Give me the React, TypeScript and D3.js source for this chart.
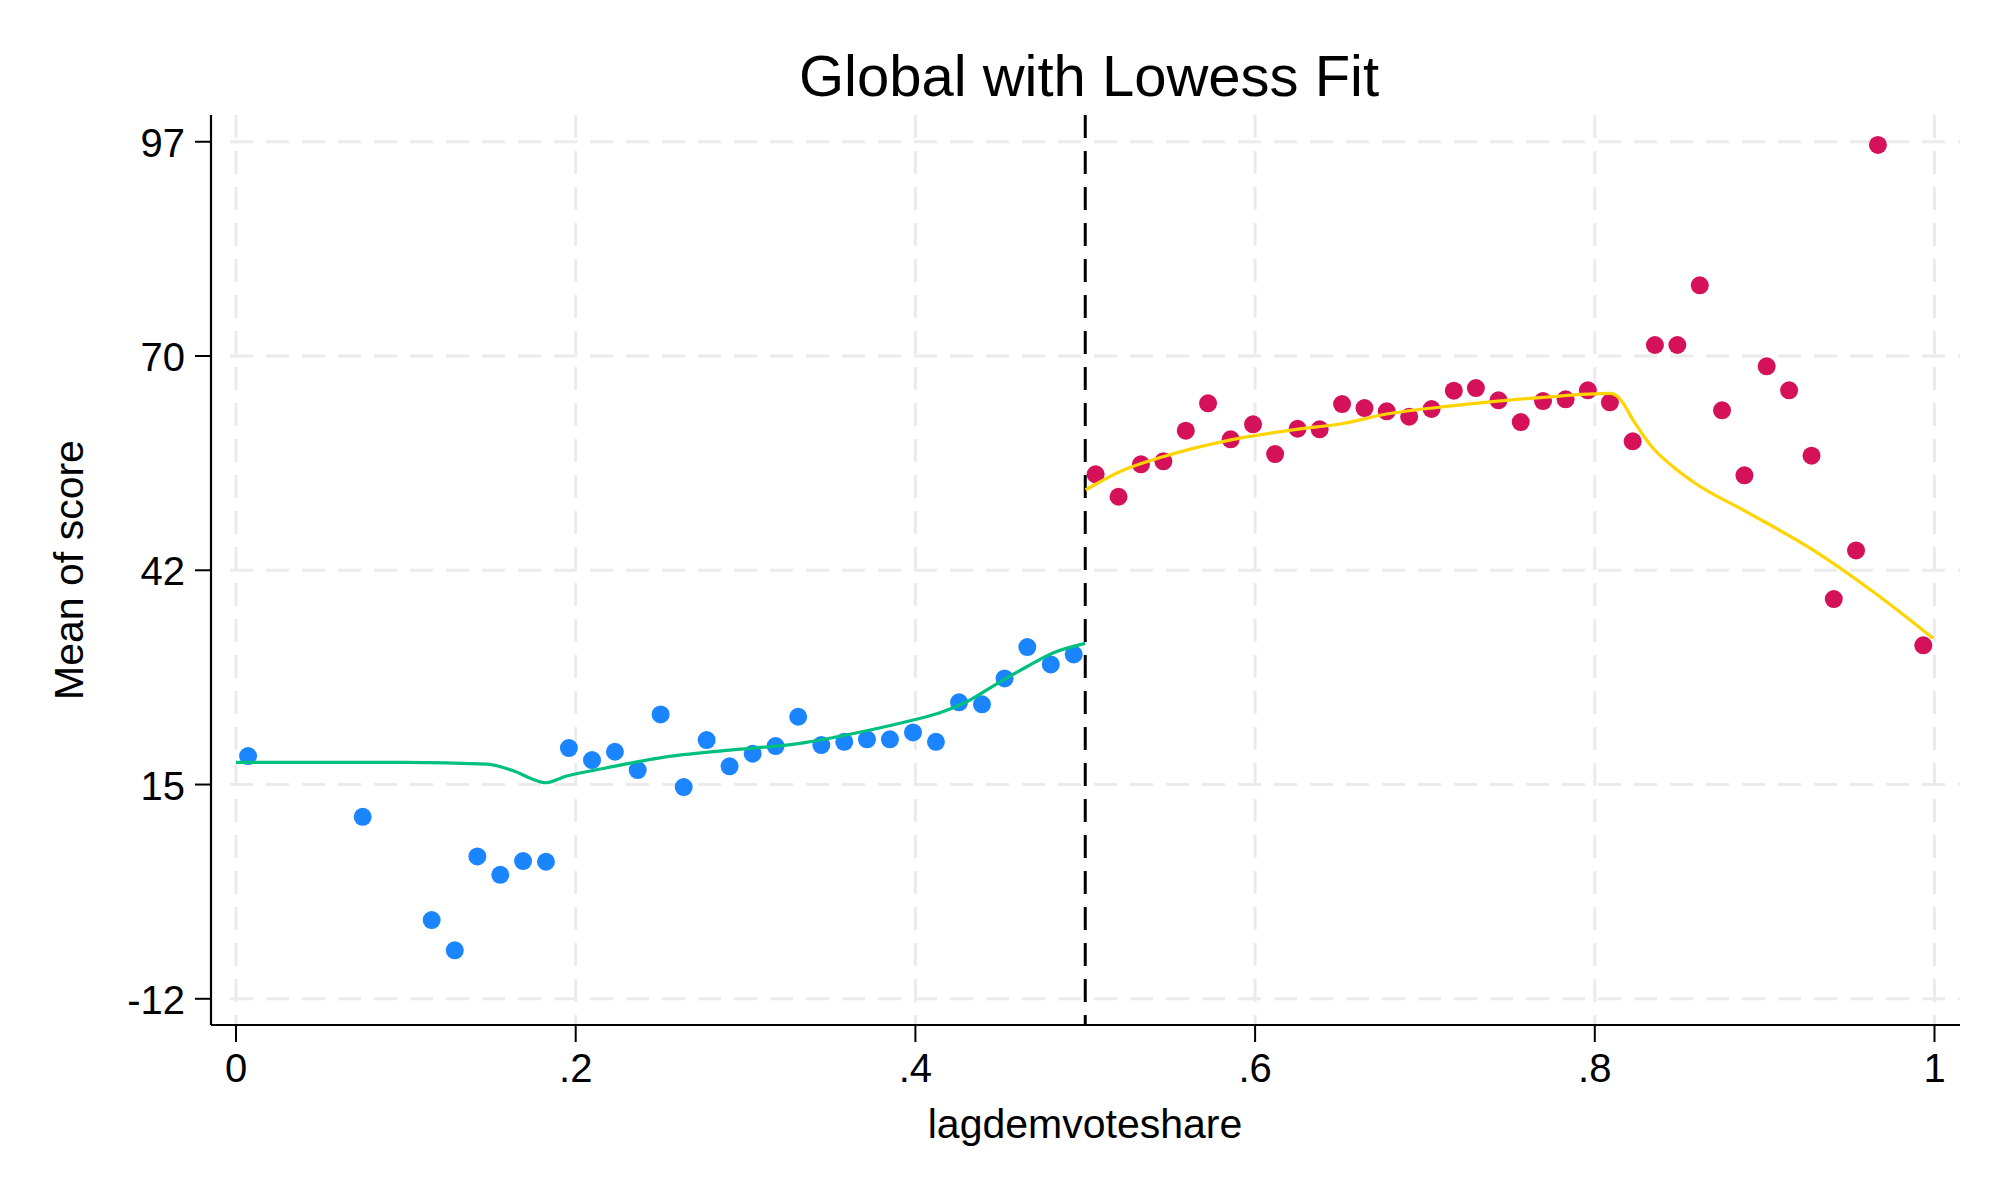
import React from 'react';
import * as d3 from 'd3';

// binned means, left of cutoff
const leftX = [0.0071, 0.0746, 0.1152, 0.1288, 0.1421, 0.1556, 0.169, 0.1825, 0.196, 0.2096, 0.2231, 0.2365, 0.25, 0.2636, 0.2771, 0.2906, 0.3042, 0.3177, 0.331, 0.3446, 0.3581, 0.3715, 0.385, 0.3986, 0.4121, 0.4257, 0.4392, 0.4525, 0.4659, 0.4797, 0.4932];
const leftY = [18.87, 11.15, -1.99, -5.84, 6.11, 3.77, 5.52, 5.43, 19.89, 18.36, 19.42, 17.09, 24.17, 14.93, 20.91, 17.56, 19.17, 20.14, 23.87, 20.27, 20.69, 21.0, 21.0, 21.88, 20.69, 25.7, 25.45, 28.75, 32.74, 30.53, 31.8];

// binned means, right of cutoff
const rightX = [0.5061, 0.5196, 0.5328, 0.546, 0.5592, 0.5723, 0.5856, 0.5988, 0.6118, 0.625, 0.638, 0.6512, 0.6644, 0.6775, 0.6907, 0.7039, 0.717, 0.73, 0.7433, 0.7564, 0.7695, 0.7828, 0.7959, 0.8089, 0.8223, 0.8354, 0.8486, 0.8618, 0.8749, 0.8881, 0.9012, 0.9144, 0.9276, 0.9407, 0.9538, 0.9667, 0.9934];
const rightY = [54.7, 51.85, 55.97, 56.35, 60.25, 63.73, 59.15, 61.06, 57.28, 60.5, 60.43, 63.64, 63.13, 62.71, 62.03, 63.01, 65.34, 65.68, 64.11, 61.35, 64.02, 64.24, 65.38, 63.86, 58.9, 71.15, 71.15, 78.74, 62.84, 54.57, 68.44, 65.38, 57.07, 38.84, 45.03, 96.6, 32.95];

// lowess fits
const lowessLeftX = [0, 0.05, 0.1, 0.1476, 0.1633, 0.1751, 0.182, 0.1947, 0.2183, 0.2514, 0.2908, 0.332, 0.3713, 0.3969, 0.4145, 0.4302, 0.4499, 0.4656, 0.4813, 0.5];
const lowessLeftY = [18.07, 18.07, 18.07, 17.85, 17.0, 15.9, 15.48, 16.33, 17.38, 18.71, 19.63, 20.49, 22.09, 23.36, 24.38, 25.78, 28.32, 30.23, 32.01, 33.21];
const lowessRightX = [0.5002, 0.5202, 0.5458, 0.5851, 0.6244, 0.65, 0.6775, 0.7167, 0.7697, 0.8087, 0.8146, 0.8225, 0.8343, 0.8461, 0.8598, 0.8893, 0.9286, 0.9639, 0.9993];
const lowessRightY = [52.71, 55.03, 56.94, 59.06, 60.43, 61.1, 62.37, 63.43, 64.49, 65.0, 64.37, 61.61, 58.01, 55.67, 53.47, 49.94, 45.07, 39.77, 33.84];

const xTicks = [0, 0.2, 0.4, 0.6, 0.8, 1];
const xTickLabels = ['0', '.2', '.4', '.6', '.8', '1'];
const yTicks = [-12, 15.25, 42.5, 69.75, 97];
const yTickLabels = ['-12', '15', '42', '70', '97'];
const cutoff = 0.5;

const W = 2004;
const H = 1202;
const FONT = '"Liberation Sans", Arial, Helvetica, sans-serif';

export default function App() {
  const x = d3.scaleLinear().domain([0, 1]).range([236, 1934.5]);
  const y = d3.scaleLinear().domain([-12, 97]).range([998.8, 141.75]);

  const plotLeft = 211;
  const plotRight = 1960;
  const plotTop = 115;
  const plotBottom = 1025;

  const line = d3
    .line<[number, number]>()
    .x((d) => x(d[0]))
    .y((d) => y(d[1]))
    .curve(d3.curveMonotoneX);

  const leftFit = lowessLeftX.map((v, i) => [v, lowessLeftY[i]] as [number, number]);
  const rightFit = lowessRightX.map((v, i) => [v, lowessRightY[i]] as [number, number]);

  return (
    <svg
      width={W}
      height={H}
      style={{ position: 'absolute', left: 0, top: 0, background: '#fff' }}
      fontFamily={FONT}
    >
      <rect width={W} height={H} fill="#fff" />

      {/* grid */}
      {yTicks.map((t) => (
        <line key={'gy' + t} x1={230} x2={plotRight} y1={y(t)} y2={y(t)} stroke="#ebebeb" strokeWidth={3} strokeDasharray="23 13" />
      ))}
      {xTicks.map((t) => (
        <line key={'gx' + t} x1={x(t)} x2={x(t)} y1={plotTop} y2={plotBottom} stroke="#ebebeb" strokeWidth={3} strokeDasharray="23 13" />
      ))}

      {/* cutoff */}
      <line x1={x(cutoff)} x2={x(cutoff)} y1={plotTop} y2={plotBottom} stroke="#000" strokeWidth={3} strokeDasharray="23 13" />

      {/* points */}
      {leftX.map((v, i) => (
        <circle key={'l' + i} cx={x(v)} cy={y(leftY[i])} r={9} fill="#1a85ff" />
      ))}
      {rightX.map((v, i) => (
        <circle key={'r' + i} cx={x(v)} cy={y(rightY[i])} r={9} fill="#d41159" />
      ))}

      {/* lowess */}
      <path d={line(leftFit) || ''} fill="none" stroke="#00bf7f" strokeWidth={3.2} />
      <path d={line(rightFit) || ''} fill="none" stroke="#ffd400" strokeWidth={3.2} />

      {/* axes */}
      <line x1={plotLeft} x2={plotLeft} y1={plotTop} y2={plotBottom} stroke="#000" strokeWidth={2.2} />
      <line x1={plotLeft} x2={plotRight} y1={plotBottom} y2={plotBottom} stroke="#000" strokeWidth={2.2} />

      {yTicks.map((t, i) => (
        <g key={'ty' + t}>
          <line x1={plotLeft - 16} x2={plotLeft} y1={y(t)} y2={y(t)} stroke="#000" strokeWidth={2} />
          <text x={185} y={y(t) + 15} textAnchor="end" fontSize={40}>
            {yTickLabels[i]}
          </text>
        </g>
      ))}
      {xTicks.map((t, i) => (
        <g key={'tx' + t}>
          <line x1={x(t)} x2={x(t)} y1={plotBottom} y2={plotBottom + 17} stroke="#000" strokeWidth={2} />
          <text x={x(t)} y={1082} textAnchor="middle" fontSize={40}>
            {xTickLabels[i]}
          </text>
        </g>
      ))}

      {/* titles */}
      <text x={1089} y={96} textAnchor="middle" fontSize={58}>
        Global with Lowess Fit
      </text>
      <text x={1085} y={1138} textAnchor="middle" fontSize={41}>
        lagdemvoteshare
      </text>
      <text transform="translate(83,570) rotate(-90)" textAnchor="middle" fontSize={41}>
        Mean of score
      </text>
    </svg>
  );
}
